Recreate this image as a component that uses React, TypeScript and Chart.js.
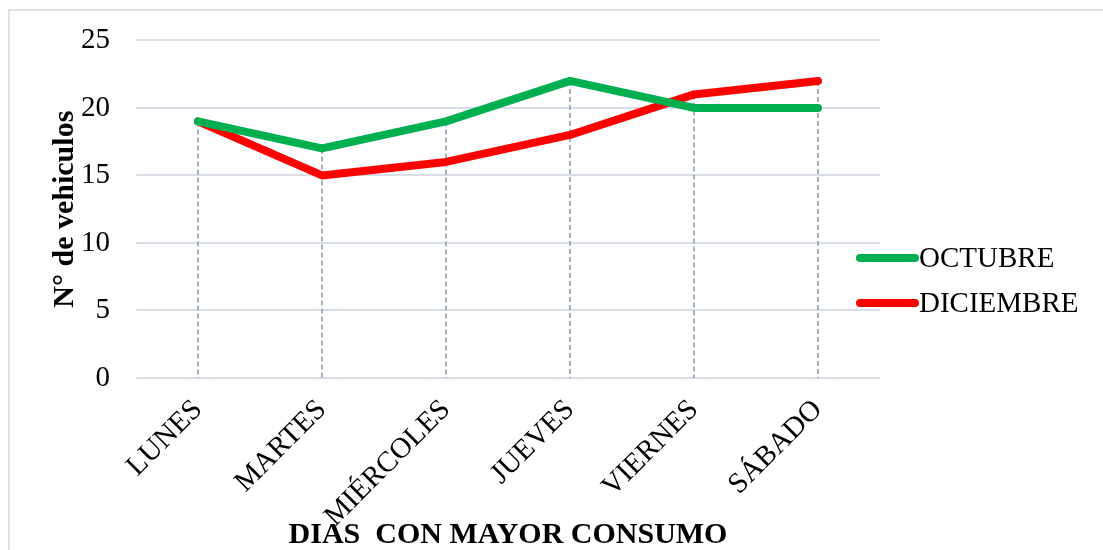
import React, { useEffect, useRef } from "react";
import { Chart, registerables } from "chart.js";

Chart.register(...registerables);

const categories = ["LUNES", "MARTES", "MIÉRCOLES", "JUEVES", "VIERNES", "SÁBADO"];
const octubre = [19, 17, 19, 22, 20, 20];
const diciembre = [19, 15, 16, 18, 21, 22];
const seriesNames = ["OCTUBRE", "DICIEMBRE"];
const seriesColors = ["#00b050", "#ff0000"];
const yTitle = "N° de vehiculos";
const xTitle = "DIAS  CON MAYOR CONSUMO";
const FONT = "'Liberation Serif', 'Times New Roman', serif";
const SHIFT = 3;

const frame = {
  id: "frame",
  beforeDraw(chart: any) {
    const ctx = chart.ctx;
    ctx.save();
    ctx.fillStyle = "#ffffff";
    ctx.fillRect(0, 0, chart.width, chart.height);
    ctx.strokeStyle = "#dde1e8";
    ctx.lineWidth = 2;
    ctx.beginPath();
    ctx.moveTo(9, chart.height + 5);
    ctx.lineTo(9, 10 + SHIFT);
    ctx.lineTo(chart.width + 5, 10 + SHIFT);
    ctx.stroke();
    ctx.restore();
  },
};

const dropLines = {
  id: "dropLines",
  beforeDatasetsDraw(chart: any) {
    const ctx = chart.ctx;
    const x = chart.scales.x;
    const y = chart.scales.y;
    ctx.save();
    ctx.strokeStyle = "#8497b0";
    ctx.lineWidth = 1.5;
    ctx.setLineDash([5, 3]);
    categories.forEach((_, i) => {
      const top = Math.max(
        ...chart.data.datasets.map((d: any) => d.data[i] as number)
      );
      const px = x.getPixelForValue(i);
      ctx.beginPath();
      ctx.moveTo(px, y.getPixelForValue(top));
      ctx.lineTo(px, y.getPixelForValue(0));
      ctx.stroke();
    });
    ctx.restore();
  },
};

const customLegend = {
  id: "customLegend",
  afterDraw(chart: any) {
    const ctx = chart.ctx;
    const area = chart.chartArea;
    ctx.save();
    ctx.font = `29px ${FONT}`;
    ctx.textBaseline = "middle";
    ctx.fillStyle = "#000000";
    const x0 = area.right - 20;
    const ys = [258 + SHIFT, 303 + SHIFT];
    chart.data.datasets.forEach((d: any, i: number) => {
      const yy = ys[i];
      ctx.strokeStyle = d.borderColor;
      ctx.lineWidth = 8;
      ctx.lineCap = "round";
      ctx.beginPath();
      ctx.moveTo(x0, yy);
      ctx.lineTo(x0 + 55, yy);
      ctx.stroke();
      ctx.fillText(d.label, x0 + 59, yy + 1);
    });
    ctx.restore();
  },
};

export default function App() {
  const ref = useRef<HTMLCanvasElement>(null);
  useEffect(() => {
    if (!ref.current) return;
    const chart = new Chart(ref.current, {
      type: "line",
      data: {
        labels: categories,
        datasets: [octubre, diciembre].map((d, i) => ({
          label: seriesNames[i],
          data: d,
          borderColor: seriesColors[i],
          backgroundColor: seriesColors[i],
          borderWidth: 8,
          borderCapStyle: "round" as const,
          borderJoinStyle: "round" as const,
          pointRadius: 0,
          tension: 0,
        })),
      },
      options: {
        animation: false,
        responsive: false,
        layout: { padding: { left: 0, right: 223, top: 30, bottom: 0 } },
        plugins: {
          legend: { display: false },
          tooltip: { enabled: false },
        },
        scales: {
          x: {
            offset: true,
            grid: { display: false, drawTicks: false },
            border: { display: false },
            ticks: {
              font: { family: FONT, size: 29 },
              color: "#000000",
              minRotation: 45,
              maxRotation: 45,
              padding: 15,
            },
            title: {
              display: true,
              text: xTitle,
              font: { family: FONT, size: 30, weight: "bold", lineHeight: 1.0 },
              color: "#000000",
              padding: { top: 0, bottom: 0 },
            },
            afterFit(scale: any) {
              scale.height = 172;
            },
          },
          y: {
            min: 0,
            max: 25,
            ticks: {
              stepSize: 5,
              font: { family: FONT, size: 29 },
              color: "#000000",
              padding: 26,
            },
            grid: { color: "#d9dde6", lineWidth: 2, drawTicks: false },
            border: { display: false },
            title: {
              display: true,
              text: yTitle,
              font: { family: FONT, size: 30, weight: "bold" },
              color: "#000000",
              padding: { top: 47, bottom: 0 },
            },
            afterFit(scale: any) {
              scale.width = 136;
            },
          },
        },
      },
      plugins: [frame, dropLines, customLegend],
    });
    return () => chart.destroy();
  }, []);
  return (
    <div style={{ position: "fixed", left: 0, top: 0, width: 1103, height: 550, overflow: "hidden" }}>
      <canvas
        ref={ref}
        width={1103}
        height={550 + SHIFT}
        style={{ position: "absolute", left: 0, top: -SHIFT, width: 1103, height: 550 + SHIFT }}
      />
    </div>
  );
}
